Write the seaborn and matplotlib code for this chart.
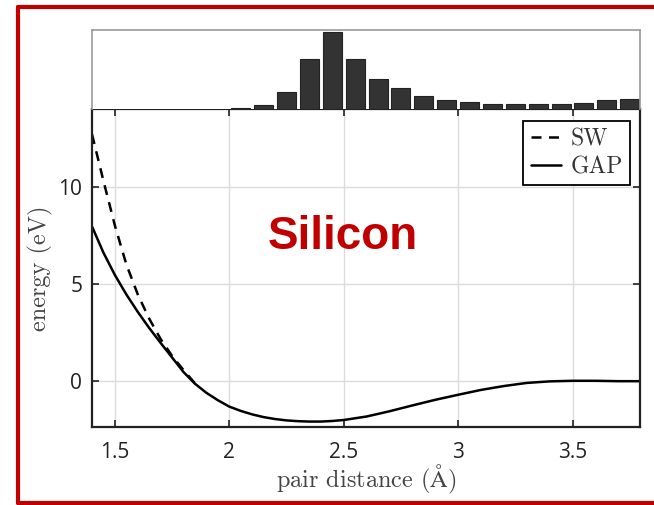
import numpy as np
import pandas as pd
import matplotlib
matplotlib.use("Agg")
import matplotlib.pyplot as plt
import seaborn as sns
from matplotlib.lines import Line2D

# ---- data ----
gap_x = [1.40, 1.45, 1.50, 1.55, 1.60, 1.65, 1.70, 1.75, 1.80, 1.85, 1.90, 1.95,
         2.00, 2.05, 2.10, 2.15, 2.20, 2.25, 2.30, 2.35, 2.40, 2.45, 2.50, 2.60,
         2.70, 2.80, 2.90, 3.00, 3.10, 3.20, 3.30, 3.40, 3.50, 3.60, 3.70, 3.80]
gap_y = [7.95, 6.60, 5.45, 4.45, 3.55, 2.72, 1.95, 1.20, 0.45, -0.15, -0.62, -1.00,
         -1.33, -1.55, -1.73, -1.87, -1.97, -2.04, -2.08, -2.10, -2.10, -2.07, -2.02, -1.84,
         -1.57, -1.27, -0.98, -0.72, -0.47, -0.27, -0.11, -0.03, 0.00, 0.00, -0.02, -0.02]

sw_x = [1.40, 1.45, 1.50, 1.55, 1.60, 1.65, 1.70, 1.75, 1.80, 1.85]
sw_y = [12.7, 10.3, 8.0, 6.0, 4.45, 3.2, 2.15, 1.28, 0.55, -0.13]

hist_centers = [2.05, 2.15, 2.25, 2.35, 2.45, 2.55, 2.65, 2.75, 2.85, 2.95,
                3.05, 3.15, 3.25, 3.35, 3.45, 3.55, 3.65, 3.75]
hist_counts = [3, 11, 51, 151, 231, 150, 90, 63, 40, 26,
               20, 16, 16, 14, 16, 19, 28, 31]

x_ticks = [1.5, 2, 2.5, 3, 3.5]
x_tick_labels = ["1.5", "2", "2.5", "3", "3.5"]
y_ticks = [0, 5, 10]
y_tick_labels = ["0", "5", "10"]

sns.set_theme(style="white")
plt.rcParams["font.family"] = ["DejaVu Sans"]
plt.rcParams["mathtext.fontset"] = "cm"

W, H = 654, 505
fig = plt.figure(figsize=(W / 100, H / 100), dpi=100)
fig.patch.set_facecolor("white")

L, R = 92 / W, 640 / W
ax = fig.add_axes([L, 1 - 427 / H, R - L, (427 - 109) / H])
axh = fig.add_axes([L, 1 - 109 / H, R - L, (109 - 30) / H], sharex=ax)

# ---- main curves ----
gap_df = pd.DataFrame({"x": gap_x, "y": gap_y})
sw_df = pd.DataFrame({"x": sw_x, "y": sw_y})
sns.lineplot(data=sw_df, x="x", y="y", ax=ax, color="black", lw=1.8,
             linestyle=(0, (4, 3)), sort=True)
sns.lineplot(data=gap_df, x="x", y="y", ax=ax, color="black", lw=1.8, sort=True)

ax.set_xlim(1.40, 3.795)
ax.set_ylim(-2.38, 14.0)
ax.set_xticks(x_ticks)
ax.set_xticklabels(x_tick_labels)
ax.set_yticks(y_ticks)
ax.set_yticklabels(y_tick_labels)
ax.grid(True, color="#dcdcdc", lw=1.0)
ax.tick_params(direction="in", length=5, width=1.2, color="#222222",
               top=True, right=True, bottom=True, left=True,
               labelsize=15, labelcolor="#222222")
ax.tick_params(axis="x", pad=11)
ax.tick_params(axis="y", pad=7)
for t in ax.get_xticklabels() + ax.get_yticklabels():
    t.set_fontfamily("Open Sans")
for s in ax.spines.values():
    s.set_color("#222222")
    s.set_linewidth(1.6)

ax.set_xlabel(r"pair distance ($\mathrm{\AA}$)", fontsize=17.5, family="cmr10",
              color="#444444", labelpad=0)
ax.set_ylabel("energy (eV)", fontsize=17.5, family="cmr10", color="#444444",
              labelpad=4)

handles = [Line2D([], [], color="black", lw=1.8, linestyle=(0, (4, 3))),
           Line2D([], [], color="black", lw=1.8)]
leg = ax.legend(handles, ["SW", "GAP"], loc="upper right",
                bbox_to_anchor=(0.982, 0.962), fancybox=False, framealpha=1,
                edgecolor="black", prop={"family": "cmr10", "size": 17},
                handlelength=1.3, handletextpad=0.4, borderpad=0.3,
                labelspacing=0.25, borderaxespad=0)
leg.get_frame().set_linewidth(1.3)
for t in leg.get_texts():
    t.set_color("#333333")

ax.text(0.458, 0.597, "Silicon", transform=ax.transAxes, ha="center",
        va="center", fontsize=33, fontweight="bold", color="#c00000",
        family="Liberation Sans")

# ---- histogram ----
hist_df = pd.DataFrame({"d": hist_centers, "n": hist_counts})
sns.histplot(data=hist_df, x="d", weights="n", binwidth=0.1,
             binrange=(2.0, 3.8), shrink=0.83, ax=axh,
             color="#333333", edgecolor="#222222", linewidth=0.8, alpha=1)
axh.set_ylim(0, 238)
axh.set_ylabel("")
axh.set_xlabel("")
axh.set_yticks([])
axh.tick_params(axis="x", bottom=False, labelbottom=False)
for k, s in axh.spines.items():
    s.set_color("#9a9a9a")
    s.set_linewidth(1.2)
axh.spines["bottom"].set_visible(False)
axh.grid(False)

# ---- red frame ----
red = "#c00000"
fig.add_artist(Line2D([17.5 / W, 1], [1 - 7 / H, 1 - 7 / H], color=red, lw=3,
                      transform=fig.transFigure))
fig.add_artist(Line2D([17.5 / W, 17.5 / W], [1 - 7 / H, 1 - 503 / H], color=red,
                      lw=3, transform=fig.transFigure))
fig.add_artist(Line2D([17.5 / W, 1], [1 - 503 / H, 1 - 503 / H], color=red, lw=3,
                      transform=fig.transFigure))

fig.savefig("out.png", dpi=100)
